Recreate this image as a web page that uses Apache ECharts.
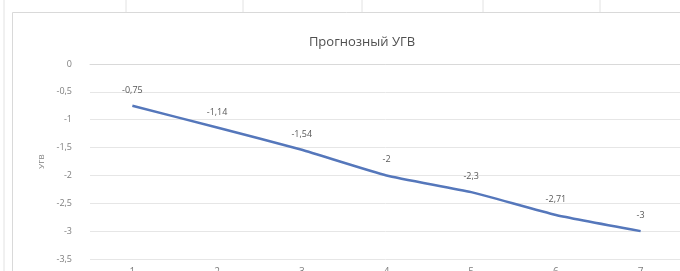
<!DOCTYPE html>
<html>
<head>
<meta charset="utf-8">
<script src="https://cdn.jsdelivr.net/npm/echarts@6/dist/echarts.min.js"></script>
<style>
  html, body { margin: 0; padding: 0; background: #fff; }
  #chart { width: 680px; height: 271px; }
</style>
</head>
<body>
<div id="chart"></div>
<script>
// данные графика
var categories = ['1', '2', '3', '4', '5', '6', '7'];
var ugvValues = [-0.75, -1.14, -1.54, -2, -2.3, -2.71, -3];
var yTicks = [0, -0.5, -1, -1.5, -2, -2.5, -3, -3.5];

var chart = echarts.init(document.getElementById('chart'));

function fmt(v) {
  return String(v).replace('.', ',');
}

// линии ячеек листа за диаграммой
var sheetLines = [];
[126, 243, 362, 483, 600].forEach(function (x) {
  sheetLines.push({
    type: 'line', silent: true,
    shape: { x1: x, y1: 0, x2: x, y2: 12 },
    style: { stroke: '#e2e2e2', lineWidth: 1 }
  });
});
sheetLines.push({
  type: 'line', silent: true,
  shape: { x1: 4, y1: 0, x2: 4, y2: 271 },
  style: { stroke: '#e2e2e2', lineWidth: 1 }
});
sheetLines.push({
  type: 'rect', silent: true,
  shape: { x: 12.5, y: 12.5, width: 700, height: 300 },
  style: { fill: 'none', stroke: '#d9d9d9', lineWidth: 1 }
});

var option = {
  backgroundColor: '#fff',
  animation: false,
  graphic: sheetLines,
  title: {
    text: 'Прогнозный УГВ',
    left: 357,
    top: 31,
    textAlign: 'center',
    textStyle: {
      fontFamily: 'Open Sans',
      fontSize: 13,
      fontWeight: 'normal',
      color: '#505050'
    }
  },
  grid: {
    left: 90,
    top: 64,
    width: 593,
    height: 195,
    containLabel: false,
    outerBoundsMode: 'none'
  },
  xAxis: {
    type: 'category',
    data: categories,
    boundaryGap: true,
    axisLine: { lineStyle: { color: '#d9d9d9', width: 1 } },
    axisTick: { show: false },
    axisLabel: {
      margin: 8,
      fontFamily: 'Open Sans',
      fontSize: 10,
      color: '#7f7f7f'
    },
    splitLine: { show: false }
  },
  yAxis: {
    type: 'value',
    min: yTicks[yTicks.length - 1],
    max: yTicks[0],
    interval: 0.5,
    name: 'УГВ',
    nameLocation: 'middle',
    nameGap: 43,
    nameRotate: 90,
    nameTextStyle: {
      fontFamily: 'Open Sans',
      fontSize: 8,
      color: '#7f7f7f'
    },
    axisLine: { show: false },
    axisTick: { show: false },
    axisLabel: {
      margin: 18,
      fontFamily: 'Open Sans',
      fontSize: 9,
      color: '#7f7f7f',
      formatter: function (v) { return fmt(v); }
    },
    splitLine: { lineStyle: { color: '#e6e6e6', width: 1 } }
  },
  series: [{
    type: 'line',
    data: ugvValues,
    symbol: 'circle',
    symbolSize: 2,
    showSymbol: true,
    itemStyle: { color: 'rgba(85,119,187,0)', borderWidth: 0 },
    smooth: 0.15,
    lineStyle: { color: '#5577bb', width: 2.5 },
    label: {
      show: true,
      position: 'top',
      distance: 10,
      fontFamily: 'Open Sans',
      fontSize: 9,
      color: '#595959',
      formatter: function (p) { return fmt(p.value); }
    }
  }]
};

chart.setOption(option);
</script>
</body>
</html>
